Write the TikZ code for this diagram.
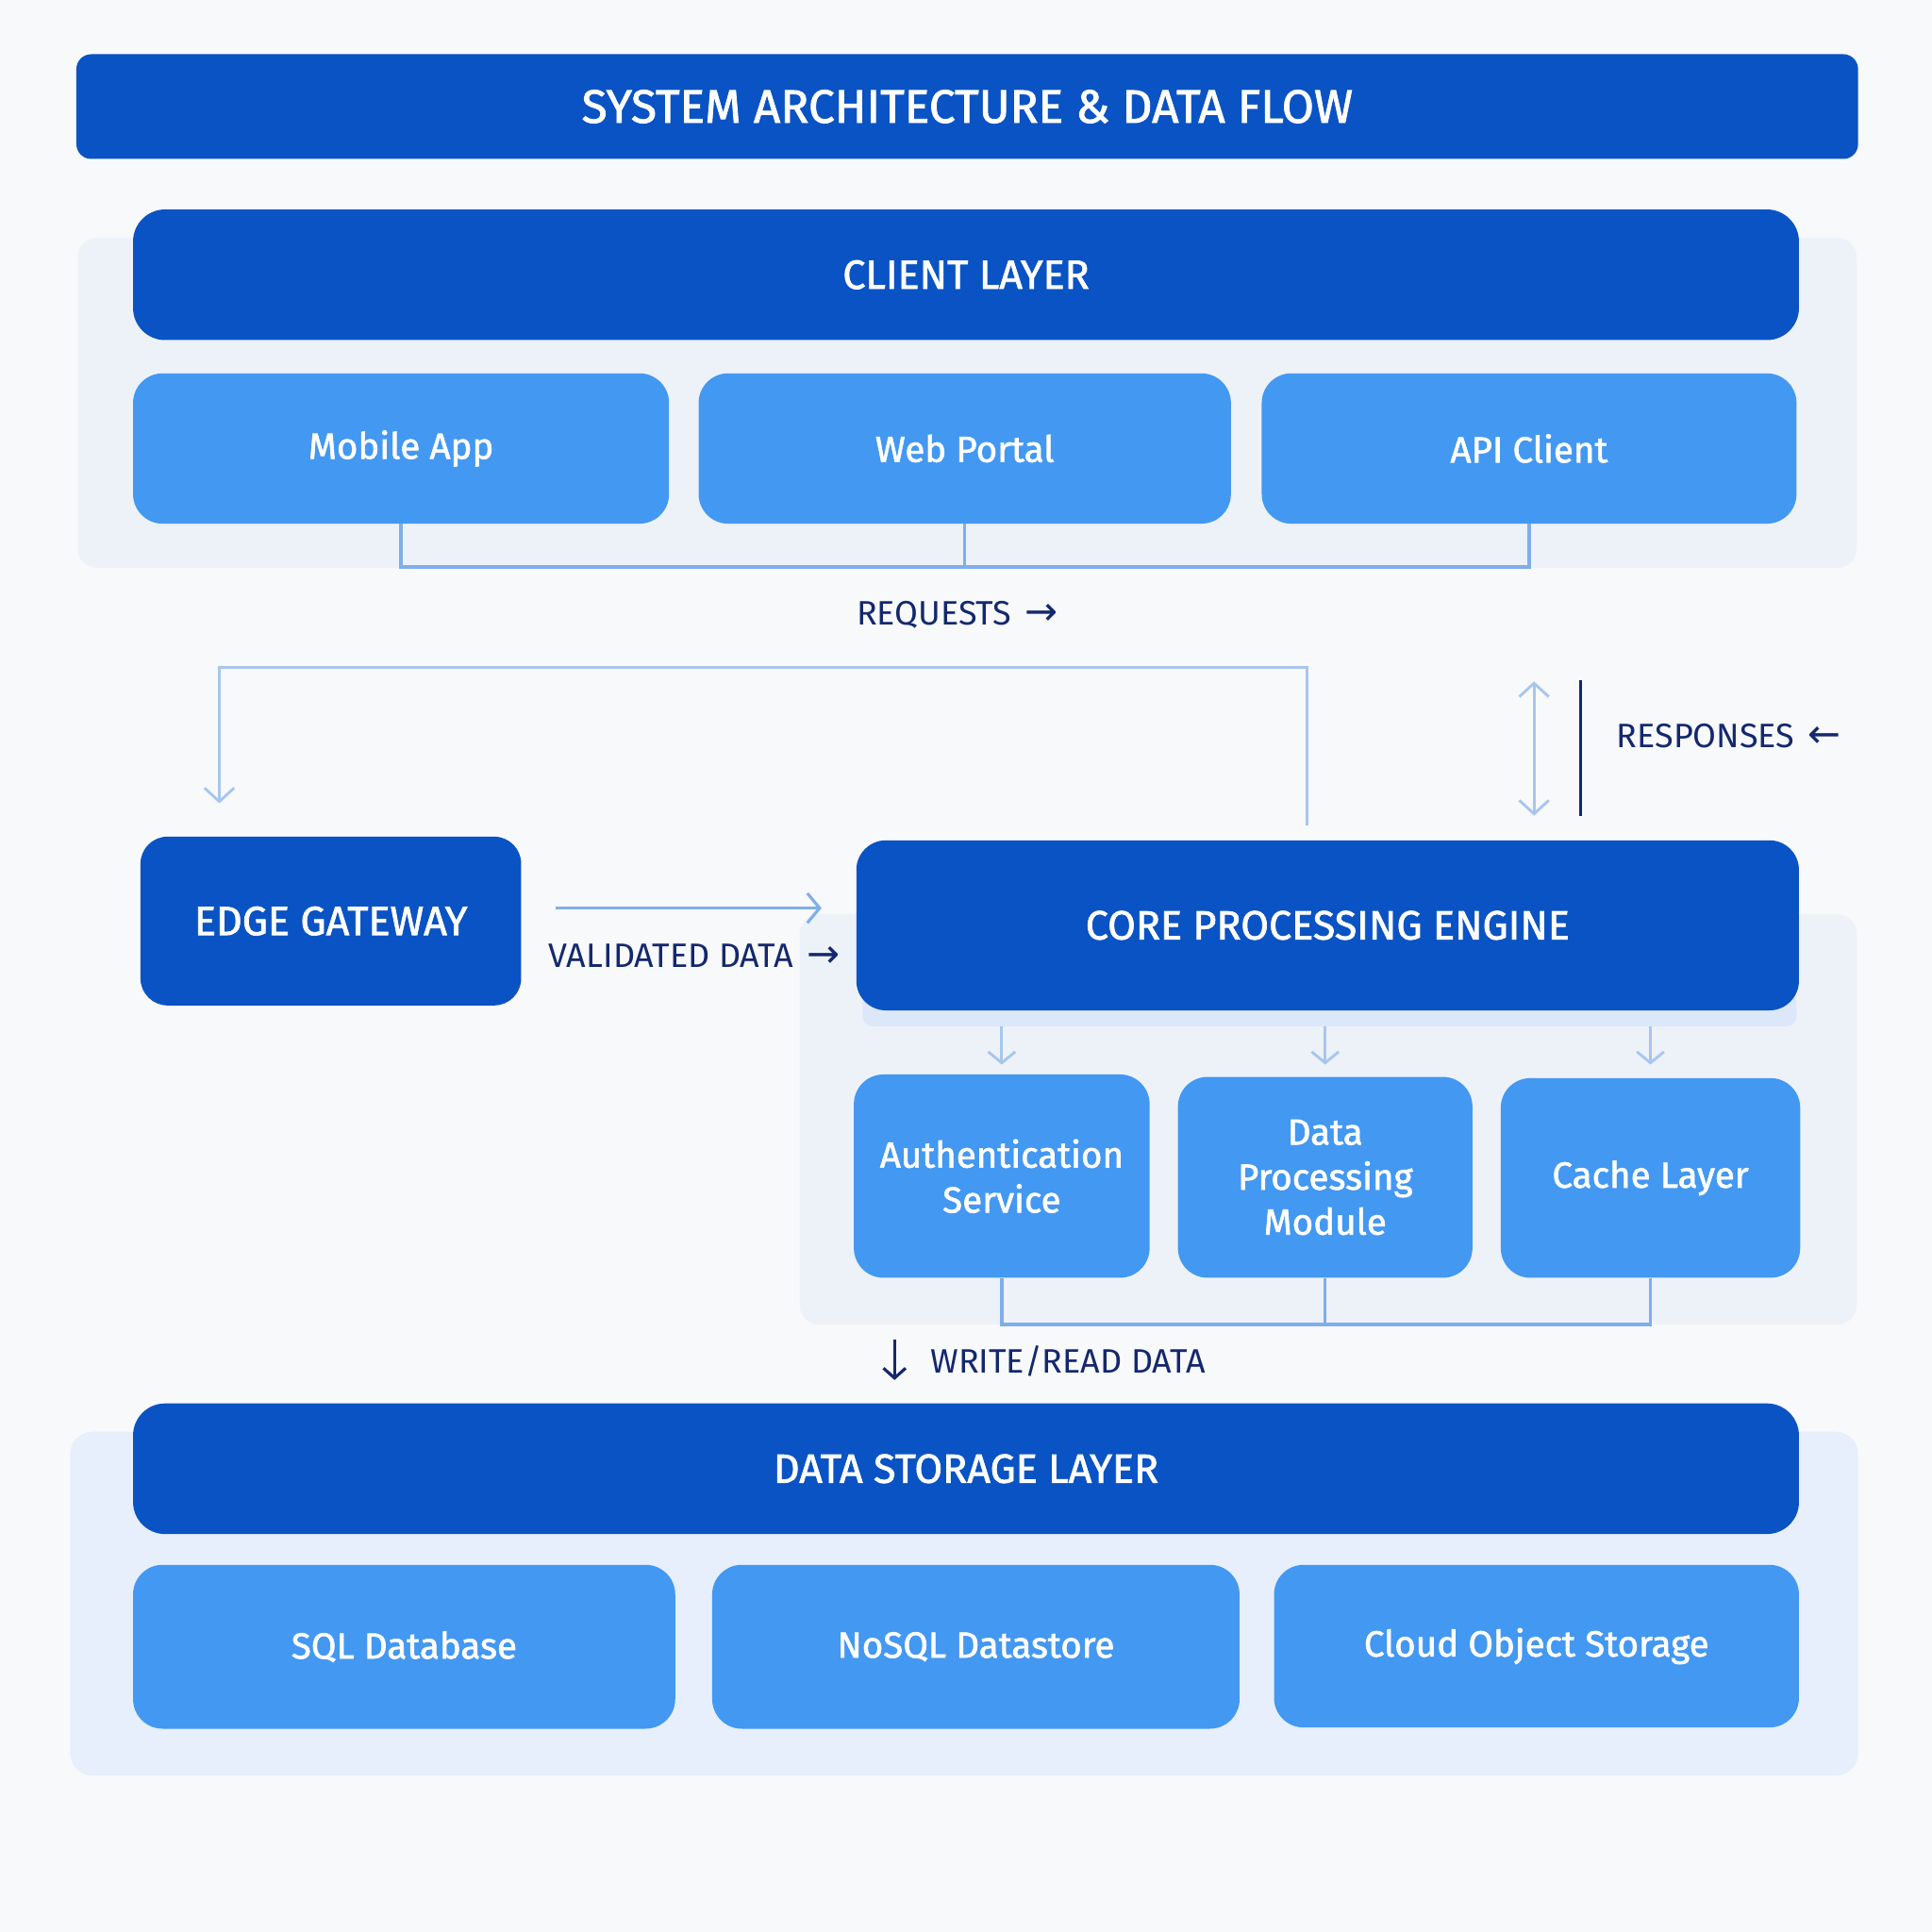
\documentclass[tikz,border=0pt]{standalone}
\usepackage{fontspec}
\setmainfont{Fira Sans}
\newfontfamily\medf{Fira Sans}[FakeBold=1.6]
\newfontfamily\symf{DejaVu Sans}
\usetikzlibrary{arrows.meta,calc}
\definecolor{bgc}{HTML}{F8F9FB}
\definecolor{darkb}{HTML}{0A53C4}
\definecolor{medb}{HTML}{4398F2}
\definecolor{panelc}{HTML}{EDF2F9}
\definecolor{panels}{HTML}{E6EFFB}
\definecolor{conn}{HTML}{7FAEEA}
\definecolor{connl}{HTML}{A8C6EE}
\definecolor{navy}{HTML}{14286E}
\definecolor{shad}{HTML}{DCE8FA}
\tikzset{
  base/.style={rounded corners=#1, inner sep=0pt, text=white, align=center},
  darkbox/.style={base=24pt, fill=darkb, font=\medf\fontsize{33}{36}\selectfont},
  medbox/.style={base=24pt, fill=medb, font=\medf\fontsize{29.5}{36.5}\selectfont},
  panel/.style={rounded corners=16pt, inner sep=0pt, fill=panelc},
  lbl/.style={text=navy, inner sep=0pt, font=\fontsize{27.5}{30}\selectfont},
  connector/.style={draw=conn, line width=2.6pt},
  flow/.style={draw=connl, line width=2.2pt, -{Straight Barb[length=11pt,width=24pt,line width=2.2pt]}},
}
\newcommand{\arr}[1]{\hspace{11pt}{\symf\fontsize{32}{32}\selectfont #1}}
\begin{document}
\begin{tikzpicture}[x=1pt,y=-1pt]
\fill[bgc] (0,0) rectangle (1568,1568);
\useasboundingbox (0,0) rectangle (1568,1568);

% title
\node[base=12pt, fill=darkb, minimum width=1446pt, minimum height=85pt, font=\medf\fontsize{38}{40}\selectfont] (title) at (785,86.5) {SYSTEM ARCHITECTURE \& DATA FLOW};

% client layer
\node[panel, minimum width=1444pt, minimum height=268pt] (cpanel) at (785,327) {};
\node[darkbox, rounded corners=26pt, minimum width=1352pt, minimum height=106pt] (client) at (784,223) {CLIENT LAYER};
\node[medbox, minimum width=435pt, minimum height=122pt] (mobile) at (325.5,364) {Mobile App};
\node[medbox, minimum width=432pt, minimum height=122pt] (web) at (783,364) {Web Portal};
\node[medbox, minimum width=434pt, minimum height=122pt] (api) at (1241,364) {API Client};
\coordinate (cbar) at (0,460);
\draw[connector] (mobile.south) -- (mobile.south |- cbar) -- (api.south |- cbar) -- (api.south);
\draw[connector] (web.south) -- (web.south |- cbar);

\node[lbl, anchor=west] (req) at (695,499) {REQUESTS\arr{→}};

% edge gateway & core
\node[darkbox, rounded corners=22pt, minimum width=309pt, minimum height=137pt] (edge) at (268.5,747.5) {EDGE GATEWAY};
\node[panel, minimum width=858pt, minimum height=333pt] (corepanel) at (1078,908.5) {};
\fill[shad, rounded corners=8pt] (700,806) rectangle (1458,833);
\node[darkbox, minimum width=765pt, minimum height=138pt] (core) at (1077.5,751) {CORE PROCESSING ENGINE};

% requests path
\coordinate (rqstart) at (1061,670);
\coordinate (rqtop) at (0,542);
\coordinate (rqend) at (178,652);
\draw[flow] (rqstart) -- (rqstart |- rqtop) -- (rqend |- rqtop) -- (rqend);

% responses
\coordinate (resA) at (1245,553);
\coordinate (resB) at (1245,662);
\draw[draw=connl, line width=2.2pt, {Straight Barb[length=11pt,width=24pt,line width=2.2pt]}-{Straight Barb[length=11pt,width=24pt,line width=2.2pt]}] (resA) -- (resB);
\coordinate (rlA) at (1283,552);
\coordinate (rlB) at (1283,662);
\draw[navy, line width=2.4pt] (rlA) -- (rlB);
\node[lbl, anchor=west] (resp) at (1312,597) {RESPONSES\arr{←}};

% validated
\coordinate (vy) at (0,737);
\draw[draw=conn, line width=2.4pt, -{Straight Barb[length=10pt,width=24pt,line width=2.4pt]}, shorten <=28pt, shorten >=28pt] (edge.east |- vy) -- (core.west |- vy);
\node[lbl, anchor=west] (val) at (445,776) {VALIDATED DATA\arr{→}};

% services
\node[medbox, minimum width=240pt, minimum height=165pt] (auth) at (813,954.5) {Authentication\\Service};
\node[medbox, minimum width=239pt, minimum height=163pt] (dpm) at (1075.5,955.5) {Data\\Processing\\Module};
\node[medbox, minimum width=243pt, minimum height=162pt] (cache) at (1339.5,956) {Cache Layer};
\coordinate (sy1) at (0,833);
\coordinate (sy2) at (0,864);
\foreach \n in {auth,dpm,cache}{
  \draw[draw=connl, line width=2.2pt, -{Straight Barb[length=9pt,width=22pt,line width=2.2pt]}] (\n.north |- sy1) -- (\n.north |- sy2);
}
\coordinate (sbar) at (0,1075);
\draw[connector] (auth.south) -- (auth.south |- sbar) -- (cache.south |- sbar) -- (cache.south);
\draw[connector] (dpm.south) -- (dpm.south |- sbar);

% write/read
\coordinate (wA) at (726,1087);
\coordinate (wB) at (726,1120);
\draw[navy, line width=2.4pt, -{Straight Barb[length=8pt,width=18pt,line width=2.4pt]}] (wA) -- (wB);
\node[lbl, anchor=west] (wr) at (755,1105) {WRITE/READ DATA};

% storage
\node[panel, rounded corners=18pt, fill=panels, minimum width=1451pt, minimum height=279pt] (spanel) at (782.5,1301.5) {};
\node[darkbox, rounded corners=26pt, minimum width=1352pt, minimum height=106pt] (storage) at (784,1192) {DATA STORAGE LAYER};
\node[medbox, minimum width=440pt, minimum height=133pt] (sql) at (328,1336.5) {SQL Database};
\node[medbox, minimum width=428pt, minimum height=133pt] (nosql) at (792,1336.5) {NoSQL Datastore};
\node[medbox, minimum width=426pt, minimum height=132pt] (cloud) at (1247,1336) {Cloud Object Storage};
\end{tikzpicture}
\end{document}
